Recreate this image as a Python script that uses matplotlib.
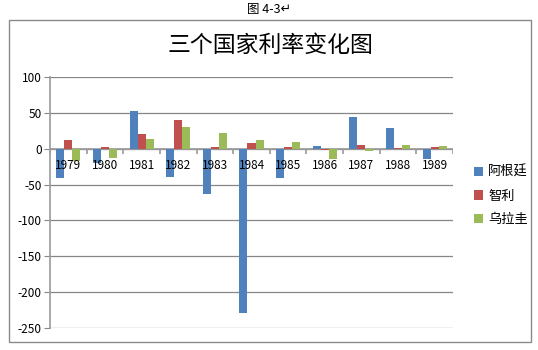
import matplotlib
matplotlib.use("Agg")
import matplotlib.pyplot as plt
import numpy as np
from matplotlib.patches import Rectangle

plt.rcParams['font.family'] = ['Noto Sans CJK SC', 'DejaVu Sans']

years = ["1979", "1980", "1981", "1982", "1983", "1984",
         "1985", "1986", "1987", "1988", "1989"]
argentina = [-41, -20, 53, -39, -63, -229, -41, 3.5, 44, 29, -14]
chile = [12, 2, 20, 40, 2, 8, 2, -2, 5, 0.5, 2]
uruguay = [-17, -13, 13, 30, 22, 12, 9.5, -14.5, -3, 5, 3.5]
series_names = ["阿根廷", "智利", "乌拉圭"]
colors = ["#4F81BD", "#C0504D", "#9BBB59"]
yticks = [-250, -200, -150, -100, -50, 0, 50, 100]

fig = plt.figure(figsize=(5.38, 3.5), dpi=100)
fig.patches.append(Rectangle((9 / 538, 1 - 342 / 350), 522 / 538, 322 / 350,
                             transform=fig.transFigure, fill=False,
                             edgecolor="#8a8a8a", linewidth=1))
fig.text(0.5, 1 - 9 / 350, "图 4-3↵", ha="center", va="center", fontsize=9)
fig.text(0.502, 1 - 45 / 350, "三个国家利率变化图", ha="center", va="center",
         fontsize=16.5, fontweight="medium")

ax = fig.add_axes([50 / 538, 1 - 328 / 350, 403 / 538, 251 / 350])
x = np.arange(len(years))
w = 0.22
for i, (vals, name) in enumerate(zip([argentina, chile, uruguay], series_names)):
    ax.bar(x + (i - 1) * w, vals, width=w, color=colors[i], label=name, zorder=3)

ax.set_xlim(-0.5, len(years) - 0.5)
ax.set_ylim(-250, 100)
ax.set_yticks(yticks)
ax.set_yticklabels([str(t) for t in yticks], fontsize=8.5)
ax.tick_params(axis="y", length=4, color="#888888", pad=2)
ax.set_xticks([])
ax.grid(axis="y", color="#868686", linewidth=0.9, zorder=0)
for s in ["top", "right", "bottom"]:
    ax.spines[s].set_visible(False)
ax.spines["left"].set_color("#999999")
ax.spines["left"].set_linewidth(1.2)

# category axis at zero with boundary tick marks
ax.axhline(0, color="#999999", linewidth=1.2, zorder=2)
ax.vlines(np.arange(len(years) + 1) - 0.5, -7, 0, color="#999999",
          linewidth=1.2, zorder=2)
for xi, yr in zip(x, years):
    ax.text(xi, -24, yr, ha="center", va="center", fontsize=8.5, zorder=4)

handles, labels = ax.get_legend_handles_labels()
fig.legend(handles, labels, loc="center left",
           bbox_to_anchor=(462 / 538, 1 - 196 / 350), frameon=False,
           fontsize=9.5, handlelength=0.7, handleheight=0.7,
           handletextpad=0.4, labelspacing=0.8)

fig.savefig("out.png", dpi=100)
